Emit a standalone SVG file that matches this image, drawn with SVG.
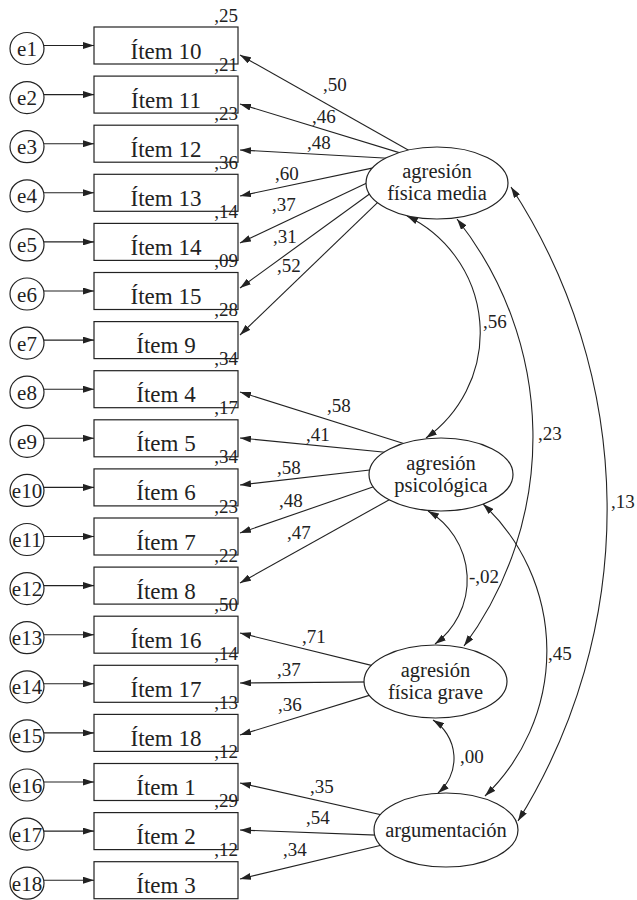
<svg xmlns="http://www.w3.org/2000/svg" width="637" height="900" viewBox="0 0 637 900">
<style>
.bg{fill:#fff}
.n{fill:#fff;stroke:#222;stroke-width:1.2}
text{font-family:Liberation Serif,Times New Roman,Times,Noto Serif,DejaVu Serif,serif;fill:#222}
.item{font-size:23px;text-anchor:middle}
.num{font-size:19px}
.var{font-size:19px;text-anchor:end}
.lat{font-size:20.5px;text-anchor:middle}
.e{font-size:21px;text-anchor:middle}
.c{fill:none;stroke:#222;stroke-width:1.1;marker-end:url(#ah)}
.cov{fill:none;stroke:#222;stroke-width:1.1;marker-start:url(#ah);marker-end:url(#ah)}
</style>
<defs>
<marker id="ah" viewBox="0 0 11 7" refX="11" refY="3.5" markerWidth="11" markerHeight="7" orient="auto-start-reverse" markerUnits="userSpaceOnUse">
<path d="M0,0 L11,3.5 L0,7 z" fill="#222"/>
</marker>
</defs>
<rect class="bg" x="0" y="0" width="637" height="900"/>

<g id="connectors">
<path class="c" d="M44,45.5 H94"/>
<path class="c" d="M44,94.6 H94"/>
<path class="c" d="M44,143.7 H94"/>
<path class="c" d="M44,192.8 H94"/>
<path class="c" d="M44,241.9 H94"/>
<path class="c" d="M44,291 H94"/>
<path class="c" d="M44,340.1 H94"/>
<path class="c" d="M44,389.2 H94"/>
<path class="c" d="M44,438.3 H94"/>
<path class="c" d="M44,487.4 H94"/>
<path class="c" d="M44,536.5 H94"/>
<path class="c" d="M44,585.6 H94"/>
<path class="c" d="M44,634.7 H94"/>
<path class="c" d="M44,683.8 H94"/>
<path class="c" d="M44,732.9 H94"/>
<path class="c" d="M44,782 H94"/>
<path class="c" d="M44,831.1 H94"/>
<path class="c" d="M44,880.2 H94"/>
<path class="c" d="M421,157.3 L240,55"/>
<path class="c" d="M411.4,156.4 L240,104"/>
<path class="c" d="M397,158.8 L240,150"/>
<path class="c" d="M382.7,165.9 L240,196"/>
<path class="c" d="M380.6,176.6 L240,243"/>
<path class="c" d="M380.2,186.2 L240,288"/>
<path class="c" d="M385.8,194.6 L240,335"/>
<path class="c" d="M416.3,447.5 L240,392"/>
<path class="c" d="M397.9,453.5 L240,438"/>
<path class="c" d="M384.9,468.3 L240,485"/>
<path class="c" d="M387.2,482.1 L240,533"/>
<path class="c" d="M400.1,493.7 L240,583"/>
<path class="c" d="M384.6,668.6 L240,633"/>
<path class="c" d="M379,681.9 L240,683"/>
<path class="c" d="M381.4,691.6 L240,735"/>
<path class="c" d="M396.6,818.3 L240,783"/>
<path class="c" d="M390,835.6 L240,830"/>
<path class="c" d="M392.6,842.5 L240,879"/>
<path class="cov" d="M407,216 A129.5,129.5 0 0 1 426,438"/>
<path class="cov" d="M457,219 A351,351 0 0 1 464,646"/>
<path class="cov" d="M511,187 A589,589 0 0 1 518,821"/>
<path class="cov" d="M428,511 A80,80 0 0 1 435,644"/>
<path class="cov" d="M483,504 A201,201 0 0 1 485,796"/>
<path class="cov" d="M433,720 A45.5,45.5 0 0 1 438,793"/>
<g class="num">
<text x="323" y="91">,50</text>
<text x="312" y="123">,46</text>
<text x="307" y="149">,48</text>
<text x="275" y="180">,60</text>
<text x="272" y="211">,37</text>
<text x="273" y="243">,31</text>
<text x="277" y="272">,52</text>
<text x="327" y="412">,58</text>
<text x="306" y="441">,41</text>
<text x="277" y="474">,58</text>
<text x="279" y="507">,48</text>
<text x="287" y="539">,47</text>
<text x="302" y="643">,71</text>
<text x="277" y="676">,37</text>
<text x="278" y="711">,36</text>
<text x="310" y="793">,35</text>
<text x="306" y="824">,54</text>
<text x="283" y="856">,34</text>
<text x="483" y="328">,56</text>
<text x="538" y="440">,23</text>
<text x="611" y="508">,13</text>
<text x="469" y="583">-,02</text>
<text x="548" y="660">,45</text>
<text x="460" y="763">,00</text>
</g>
</g>

<g id="e1" transform="translate(0,27)"><ellipse class="n" cx="27" cy="21.5" rx="17" ry="16"/><text class="e" x="27" y="29">e1</text></g>
<g id="e2" transform="translate(0,76.1)"><ellipse class="n" cx="27" cy="21.5" rx="17" ry="16"/><text class="e" x="27" y="29">e2</text></g>
<g id="e3" transform="translate(0,125.2)"><ellipse class="n" cx="27" cy="21.5" rx="17" ry="16"/><text class="e" x="27" y="29">e3</text></g>
<g id="e4" transform="translate(0,174.3)"><ellipse class="n" cx="27" cy="21.5" rx="17" ry="16"/><text class="e" x="27" y="29">e4</text></g>
<g id="e5" transform="translate(0,223.4)"><ellipse class="n" cx="27" cy="21.5" rx="17" ry="16"/><text class="e" x="27" y="29">e5</text></g>
<g id="e6" transform="translate(0,272.5)"><ellipse class="n" cx="27" cy="21.5" rx="17" ry="16"/><text class="e" x="27" y="29">e6</text></g>
<g id="e7" transform="translate(0,321.6)"><ellipse class="n" cx="27" cy="21.5" rx="17" ry="16"/><text class="e" x="27" y="29">e7</text></g>
<g id="e8" transform="translate(0,370.7)"><ellipse class="n" cx="27" cy="21.5" rx="17" ry="16"/><text class="e" x="27" y="29">e8</text></g>
<g id="e9" transform="translate(0,419.8)"><ellipse class="n" cx="27" cy="21.5" rx="17" ry="16"/><text class="e" x="27" y="29">e9</text></g>
<g id="e10" transform="translate(0,468.9)"><ellipse class="n" cx="27" cy="21.5" rx="17" ry="16"/><text class="e" x="27" y="29">e10</text></g>
<g id="e11" transform="translate(0,518)"><ellipse class="n" cx="27" cy="21.5" rx="17" ry="16"/><text class="e" x="27" y="29">e11</text></g>
<g id="e12" transform="translate(0,567.1)"><ellipse class="n" cx="27" cy="21.5" rx="17" ry="16"/><text class="e" x="27" y="29">e12</text></g>
<g id="e13" transform="translate(0,616.2)"><ellipse class="n" cx="27" cy="21.5" rx="17" ry="16"/><text class="e" x="27" y="29">e13</text></g>
<g id="e14" transform="translate(0,665.3)"><ellipse class="n" cx="27" cy="21.5" rx="17" ry="16"/><text class="e" x="27" y="29">e14</text></g>
<g id="e15" transform="translate(0,714.4)"><ellipse class="n" cx="27" cy="21.5" rx="17" ry="16"/><text class="e" x="27" y="29">e15</text></g>
<g id="e16" transform="translate(0,763.5)"><ellipse class="n" cx="27" cy="21.5" rx="17" ry="16"/><text class="e" x="27" y="29">e16</text></g>
<g id="e17" transform="translate(0,812.6)"><ellipse class="n" cx="27" cy="21.5" rx="17" ry="16"/><text class="e" x="27" y="29">e17</text></g>
<g id="e18" transform="translate(0,861.7)"><ellipse class="n" cx="27" cy="21.5" rx="17" ry="16"/><text class="e" x="27" y="29">e18</text></g>

<g id="item10" transform="translate(0,27)"><rect class="n" x="94" y="0" width="144" height="37"/><text class="item" x="166" y="31.5">Ítem 10</text><text class="var" x="238" y="-5.5">,25</text></g>
<g id="item11" transform="translate(0,76.1)"><rect class="n" x="94" y="0" width="144" height="37"/><text class="item" x="166" y="31.5">Ítem 11</text><text class="var" x="238" y="-5.5">,21</text></g>
<g id="item12" transform="translate(0,125.2)"><rect class="n" x="94" y="0" width="144" height="37"/><text class="item" x="166" y="31.5">Ítem 12</text><text class="var" x="238" y="-5.5">,23</text></g>
<g id="item13" transform="translate(0,174.3)"><rect class="n" x="94" y="0" width="144" height="37"/><text class="item" x="166" y="31.5">Ítem 13</text><text class="var" x="238" y="-5.5">,36</text></g>
<g id="item14" transform="translate(0,223.4)"><rect class="n" x="94" y="0" width="144" height="37"/><text class="item" x="166" y="31.5">Ítem 14</text><text class="var" x="238" y="-5.5">,14</text></g>
<g id="item15" transform="translate(0,272.5)"><rect class="n" x="94" y="0" width="144" height="37"/><text class="item" x="166" y="31.5">Ítem 15</text><text class="var" x="238" y="-5.5">,09</text></g>
<g id="item9" transform="translate(0,321.6)"><rect class="n" x="94" y="0" width="144" height="37"/><text class="item" x="166" y="31.5">Ítem 9</text><text class="var" x="238" y="-5.5">,28</text></g>
<g id="item4" transform="translate(0,370.7)"><rect class="n" x="94" y="0" width="144" height="37"/><text class="item" x="166" y="31.5">Ítem 4</text><text class="var" x="238" y="-5.5">,34</text></g>
<g id="item5" transform="translate(0,419.8)"><rect class="n" x="94" y="0" width="144" height="37"/><text class="item" x="166" y="31.5">Ítem 5</text><text class="var" x="238" y="-5.5">,17</text></g>
<g id="item6" transform="translate(0,468.9)"><rect class="n" x="94" y="0" width="144" height="37"/><text class="item" x="166" y="31.5">Ítem 6</text><text class="var" x="238" y="-5.5">,34</text></g>
<g id="item7" transform="translate(0,518)"><rect class="n" x="94" y="0" width="144" height="37"/><text class="item" x="166" y="31.5">Ítem 7</text><text class="var" x="238" y="-5.5">,23</text></g>
<g id="item8" transform="translate(0,567.1)"><rect class="n" x="94" y="0" width="144" height="37"/><text class="item" x="166" y="31.5">Ítem 8</text><text class="var" x="238" y="-5.5">,22</text></g>
<g id="item16" transform="translate(0,616.2)"><rect class="n" x="94" y="0" width="144" height="37"/><text class="item" x="166" y="31.5">Ítem 16</text><text class="var" x="238" y="-5.5">,50</text></g>
<g id="item17" transform="translate(0,665.3)"><rect class="n" x="94" y="0" width="144" height="37"/><text class="item" x="166" y="31.5">Ítem 17</text><text class="var" x="238" y="-5.5">,14</text></g>
<g id="item18" transform="translate(0,714.4)"><rect class="n" x="94" y="0" width="144" height="37"/><text class="item" x="166" y="31.5">Ítem 18</text><text class="var" x="238" y="-5.5">,13</text></g>
<g id="item1" transform="translate(0,763.5)"><rect class="n" x="94" y="0" width="144" height="37"/><text class="item" x="166" y="31.5">Ítem 1</text><text class="var" x="238" y="-5.5">,12</text></g>
<g id="item2" transform="translate(0,812.6)"><rect class="n" x="94" y="0" width="144" height="37"/><text class="item" x="166" y="31.5">Ítem 2</text><text class="var" x="238" y="-5.5">,29</text></g>
<g id="item3" transform="translate(0,861.7)"><rect class="n" x="94" y="0" width="144" height="37"/><text class="item" x="166" y="31.5">Ítem 3</text><text class="var" x="238" y="-5.5">,12</text></g>

<g id="fisica_media"><ellipse class="n" cx="437" cy="183" rx="71" ry="36"/><text class="lat" x="437" y="178">agresión</text><text class="lat" x="437" y="200">física media</text></g>
<g id="psicologica"><ellipse class="n" cx="441" cy="474.5" rx="72" ry="36.5"/><text class="lat" x="441" y="470">agresión</text><text class="lat" x="441" y="491.5">psicológica</text></g>
<g id="fisica_grave"><ellipse class="n" cx="435.5" cy="681.5" rx="71.5" ry="36.5"/><text class="lat" x="435.5" y="676.5">agresión</text><text class="lat" x="435.5" y="698.5">física grave</text></g>
<g id="argumentacion"><ellipse class="n" cx="446" cy="830" rx="72" ry="37"/><text class="lat" x="446" y="837">argumentación</text></g>
</svg>
